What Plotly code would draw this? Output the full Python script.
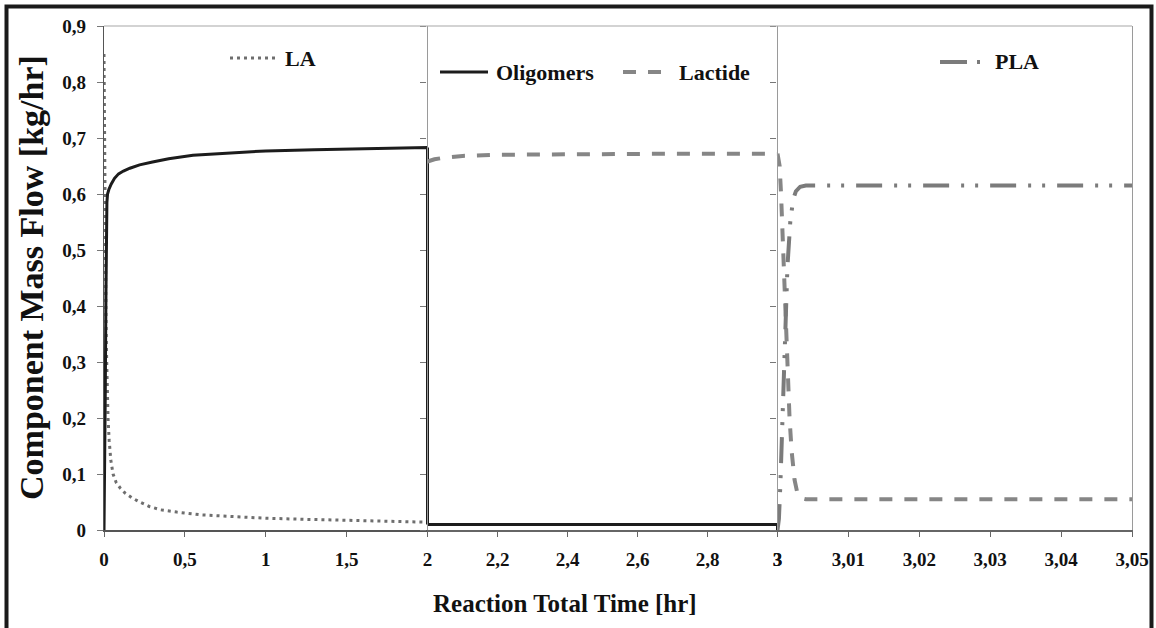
import plotly.graph_objects as go

# ---------------- data ----------------
la_t = [0.0, 0.004, 0.008, 0.012, 0.016, 0.02, 0.025, 0.032, 0.042, 0.056, 0.075, 0.1, 0.13,
        0.17, 0.22, 0.28, 0.35, 0.45, 0.6, 0.8, 1.0, 1.25, 1.5, 1.75, 2.0]
la_flow = [0.85, 0.65, 0.5, 0.39, 0.31, 0.25, 0.2, 0.16, 0.125, 0.1, 0.085, 0.075, 0.066,
           0.058, 0.05, 0.042, 0.036, 0.032, 0.027, 0.024, 0.021, 0.019, 0.017, 0.0155, 0.014]

olig1_t = [0.0, 0.004, 0.008, 0.012, 0.015, 0.018, 0.022, 0.03, 0.045, 0.065, 0.09, 0.12, 0.16,
           0.22, 0.3, 0.4, 0.55, 0.75, 1.0, 1.3, 1.6, 2.0, 2.0]
olig1_flow = [0.0, 0.1, 0.25, 0.42, 0.53, 0.585, 0.6, 0.608, 0.618, 0.628, 0.636, 0.641, 0.646,
              0.652, 0.657, 0.663, 0.669, 0.673, 0.677, 0.679, 0.681, 0.683, 0.01]

olig2_t = [2.0, 2.0, 3.0, 3.0]
olig2_flow = [0.683, 0.01, 0.01, 0.0]

lac2_t = [2.0, 2.02, 2.05, 2.1, 2.2, 2.4, 2.7, 3.0]
lac2_flow = [0.658, 0.662, 0.665, 0.668, 0.670, 0.671, 0.672, 0.672]

lac3_t = [3.0, 3.0003, 3.0005, 3.0008, 3.0011, 3.0014, 3.0017, 3.002, 3.0024, 3.0028, 3.0033, 3.004, 3.05]
lac3_flow = [0.672, 0.65, 0.60, 0.50, 0.38, 0.28, 0.20, 0.14, 0.09, 0.066, 0.057, 0.055, 0.055]

pla_t = [3.0, 3.0002, 3.0004, 3.0006, 3.0008, 3.0011, 3.0014, 3.0018, 3.0022, 3.0026, 3.0032, 3.004, 3.05]
pla_flow = [0.0, 0.02, 0.08, 0.15, 0.24, 0.36, 0.47, 0.55, 0.59, 0.605, 0.613, 0.615, 0.615]

y_tick_vals = [0, 0.1, 0.2, 0.3, 0.4, 0.5, 0.6, 0.7, 0.8, 0.9]
y_tick_text = ["0", "0,1", "0,2", "0,3", "0,4", "0,5", "0,6", "0,7", "0,8", "0,9"]
x1_tick_vals = [0, 0.5, 1, 1.5, 2]
x1_tick_text = ["0", "0,5", "1", "1,5", "2"]
x2_tick_vals = [2.2, 2.4, 2.6, 2.8, 3.0]
x2_tick_text = ["2,2", "2,4", "2,6", "2,8", "3"]
x3_tick_vals = [3.0, 3.01, 3.02, 3.03, 3.04, 3.05]
x3_tick_text = ["3", "3,01", "3,02", "3,03", "3,04", "3,05"]

series_names = ["LA", "Oligomers", "Lactide", "PLA"]
x_title = "Reaction Total Time [hr]"
y_title = "Component Mass Flow [kg/hr]"

# ---------------- layout helpers ----------------
FONT = "Liberation Serif, Times New Roman, serif"
W, H = 1156, 628
L, R, T, B = 104, 24, 26, 98
PW, PH = W - L - R, H - T - B


def px(x):
    return (x - L) / PW


def py(y):
    return (H - B - y) / PH


d1 = [0, px(427.5)]
d2 = [px(427.5), px(777.5)]
d3 = [px(777.5), 1]

C_OLIG = "#1c1c1c"
C_LAC = "#868686"
C_PLA = "#7b7b7b"
C_LA = "#6e6e6e"

DASH_LA = "3px,4px"
DASH_LAC = "13px,12px"
DASH_PLA = "26px,12px,3px,11px,3px,12px"

fig = go.Figure()
fig.add_trace(go.Scatter(x=la_t, y=la_flow, xaxis="x", yaxis="y", mode="lines",
                         line=dict(color=C_LA, width=3, dash=DASH_LA), name=series_names[0]))
fig.add_trace(go.Scatter(x=olig1_t, y=olig1_flow, xaxis="x", yaxis="y", mode="lines",
                         line=dict(color=C_OLIG, width=3), name=series_names[1]))
fig.add_trace(go.Scatter(x=olig2_t, y=olig2_flow, xaxis="x2", yaxis="y2", mode="lines",
                         line=dict(color=C_OLIG, width=3), name=series_names[1]))
fig.add_trace(go.Scatter(x=lac2_t, y=lac2_flow, xaxis="x2", yaxis="y2", mode="lines",
                         line=dict(color=C_LAC, width=4, dash=DASH_LAC), name=series_names[2]))
fig.add_trace(go.Scatter(x=lac3_t, y=lac3_flow, xaxis="x3", yaxis="y3", mode="lines",
                         line=dict(color=C_LAC, width=4, dash=DASH_LAC), name=series_names[2]))
fig.add_trace(go.Scatter(x=pla_t, y=pla_flow, xaxis="x3", yaxis="y3", mode="lines",
                         line=dict(color=C_PLA, width=4, dash=DASH_PLA), name=series_names[3]))

tickfont = dict(family=FONT, size=19, color="#111", weight="bold")
xcommon = dict(showgrid=False, zeroline=False, showline=True, linecolor="#666", linewidth=1.5,
               ticks="outside", ticklen=5, tickcolor="#666", tickfont=tickfont,
               ticklabelstandoff=6, fixedrange=True, automargin=False)
ycommon = dict(range=[0, 0.9], showgrid=False, zeroline=False, showline=True, linewidth=1.2,
               ticks="outside", ticklen=6, tickcolor="#777", tickvals=y_tick_vals,
               fixedrange=True, automargin=False)

fig.update_layout(
    width=W, height=H,
    margin=dict(l=L, r=R, t=T, b=B, autoexpand=False),
    paper_bgcolor="white", plot_bgcolor="white",
    showlegend=False,
    xaxis=dict(domain=d1, range=[0, 2], anchor="y", tickvals=x1_tick_vals, ticktext=x1_tick_text,
               **{**xcommon, "linecolor": "#555"}),
    xaxis2=dict(domain=d2, range=[2, 3], anchor="y2", tickvals=x2_tick_vals, ticktext=x2_tick_text,
                **xcommon),
    xaxis3=dict(domain=d3, range=[3, 3.05], anchor="y3", tickvals=x3_tick_vals, ticktext=x3_tick_text,
                **xcommon),
    yaxis=dict(anchor="x", ticktext=y_tick_text, tickfont=tickfont, ticklabelstandoff=7,
               linecolor="#555", **ycommon),
    yaxis2=dict(anchor="x2", showticklabels=False, linecolor="#9a9a9a", **ycommon),
    yaxis3=dict(anchor="x3", showticklabels=False, linecolor="#9a9a9a", mirror=True, **ycommon),
)

shapes = [
    # outer black frame
    dict(type="rect", xref="paper", yref="paper", x0=px(6.5), x1=px(1151.5), y0=py(700), y1=py(6.5),
         line=dict(color="#1a1a1a", width=4), fillcolor="rgba(0,0,0,0)", layer="above"),
    # top border of the plot area
    dict(type="line", xref="paper", yref="paper", x0=0, x1=1, y0=1, y1=1,
         line=dict(color="#a8a8a8", width=1.2)),
    # legend samples
    dict(type="line", xref="paper", yref="paper", x0=px(230), x1=px(276), y0=py(58), y1=py(58),
         line=dict(color=C_LA, width=3, dash=DASH_LA)),
    dict(type="line", xref="paper", yref="paper", x0=px(440), x1=px(488), y0=py(72), y1=py(72),
         line=dict(color=C_OLIG, width=3)),
    dict(type="line", xref="paper", yref="paper", x0=px(623), x1=px(664), y0=py(72), y1=py(72),
         line=dict(color=C_LAC, width=4, dash=DASH_LAC)),
    dict(type="line", xref="paper", yref="paper", x0=px(940), x1=px(983), y0=py(62), y1=py(62),
         line=dict(color=C_PLA, width=4, dash="27px,10px,3px,30px")),
]
fig.update_layout(shapes=shapes)

legfont = dict(family=FONT, size=22, color="#111", weight="bold")
ann = [
    dict(text=series_names[0], x=px(283), y=py(58)),
    dict(text=series_names[1], x=px(494), y=py(72)),
    dict(text=series_names[2], x=px(677), y=py(72)),
    dict(text=series_names[3], x=px(993), y=py(62)),
]
annotations = [dict(xref="paper", yref="paper", xanchor="left", yanchor="middle", showarrow=False,
                    font=legfont, **a) for a in ann]
annotations.append(dict(text=x_title, xref="paper", yref="paper", x=px(565), y=py(603),
                        xanchor="center", yanchor="middle", showarrow=False,
                        font=dict(family=FONT, size=25, color="#111", weight="bold")))
annotations.append(dict(text=y_title, xref="paper", yref="paper", x=px(31), y=py(278),
                        xanchor="center", yanchor="middle", showarrow=False, textangle=-90,
                        font=dict(family=FONT, size=34, color="#111", weight="bold")))
fig.update_layout(annotations=annotations)

fig.write_html("out.html", config={"displayModeBar": False},
               post_script="document.body.style.margin='0';document.body.style.overflow='hidden';")
